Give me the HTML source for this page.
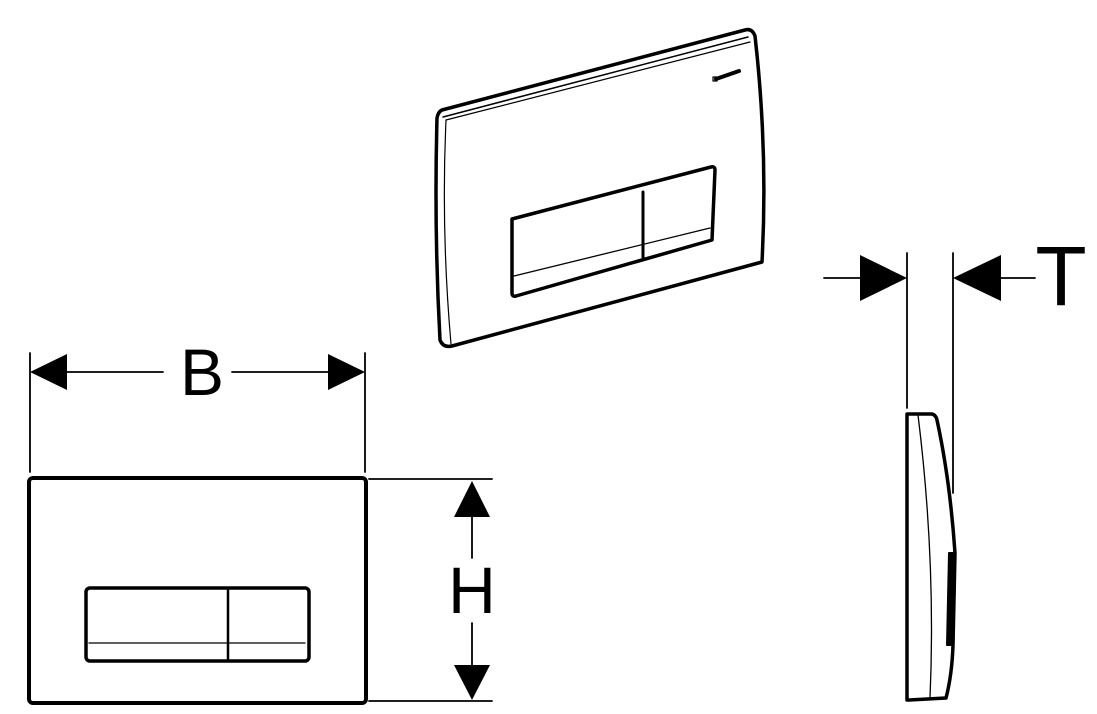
<!DOCTYPE html>
<html><head><style>
html,body{margin:0;padding:0;background:#fff;}
svg{display:block;}
text{font-family:"Liberation Sans",sans-serif;fill:#000;}
</style></head><body>
<svg width="1097" height="714" viewBox="0 0 1097 714" xmlns="http://www.w3.org/2000/svg">
<g fill="none" stroke="#000" stroke-linejoin="round" stroke-linecap="round">
<!-- isometric plate -->
<path d="M442,110 L745,30 Q752,28 755,36 Q768,150 762,262 L452,346 Q443,348 440,340 Q434,230 437,118 Q438,112 442,110 Z" stroke-width="3.5"/>
<path d="M443,117 L748,37" stroke-width="1.5"/>
<path d="M446,120 L750,42" stroke-width="1.2"/>
<path d="M446,120 Q441,230 451,344" stroke-width="1.2"/>
<path d="M512,219 L711,167 Q715,166 715,170 L712,240 L516,296 Q512,297 512,293 Z" stroke-width="3.5"/>
<path d="M514,276 L710,228" stroke-width="1.3"/>
<path d="M643,192 L643,257" stroke-width="3"/>
<path d="M716,79 L739,71" stroke-width="4"/>
<rect x="713" y="77" width="4" height="4" stroke-width="1.2"/>
<!-- front view -->
<rect x="29" y="478" width="337" height="225" rx="4" stroke-width="4"/>
<rect x="86" y="588" width="223" height="73" rx="4" stroke-width="3.5"/>
<line x1="89" y1="643" x2="305" y2="643" stroke-width="1.3"/>
<line x1="228" y1="590" x2="228" y2="659" stroke-width="2.5"/>
<!-- B dimension -->
<line x1="30" y1="353" x2="30" y2="472" stroke-width="1.8"/>
<line x1="365" y1="353" x2="365" y2="472" stroke-width="1.8"/>
<line x1="66" y1="372" x2="163" y2="372" stroke-width="1.8"/>
<line x1="232" y1="372" x2="328" y2="372" stroke-width="1.8"/>
<!-- H dimension -->
<line x1="369" y1="479" x2="492" y2="479" stroke-width="1.8"/>
<line x1="369" y1="701" x2="492" y2="701" stroke-width="1.8"/>
<line x1="472" y1="516" x2="472" y2="558" stroke-width="1.8"/>
<line x1="472" y1="623" x2="472" y2="666" stroke-width="1.8"/>
<!-- T dimension -->
<line x1="907" y1="253" x2="907" y2="408" stroke-width="1.8"/>
<line x1="953" y1="253" x2="953" y2="493" stroke-width="1.8"/>
<line x1="824" y1="278" x2="860" y2="278" stroke-width="1.8"/>
<line x1="1000" y1="278" x2="1035" y2="278" stroke-width="1.8"/>
<!-- side profile -->
<path d="M907,414 L932,414 Q936,415 937,420 Q950,480 955,553 L953,645 Q952,675 946,698 L909,700 L907,700 Z" stroke-width="3.5"/>
<path d="M918,415 Q936,560 930,698" stroke-width="1.3"/>
<path d="M949,553 L953,553 L952,645 L947,645 Z" fill="#000" stroke-width="2"/>
</g>
<g fill="#000">
<polygon points="30,372 67,354 67,390"/>
<polygon points="365,372 328,354 328,390"/>
<polygon points="472,481 454,517 490,517"/>
<polygon points="472,700 454,665 490,665"/>
<polygon points="907,278 860,255 860,301"/>
<polygon points="953,278 1001,255 1001,301"/>
</g>
<text x="202" y="395" font-size="66" text-anchor="middle">B</text>
<text x="472" y="613" font-size="66" text-anchor="middle">H</text>
<text x="1061" y="305" font-size="84" text-anchor="middle">T</text>
</svg>
</body></html>
